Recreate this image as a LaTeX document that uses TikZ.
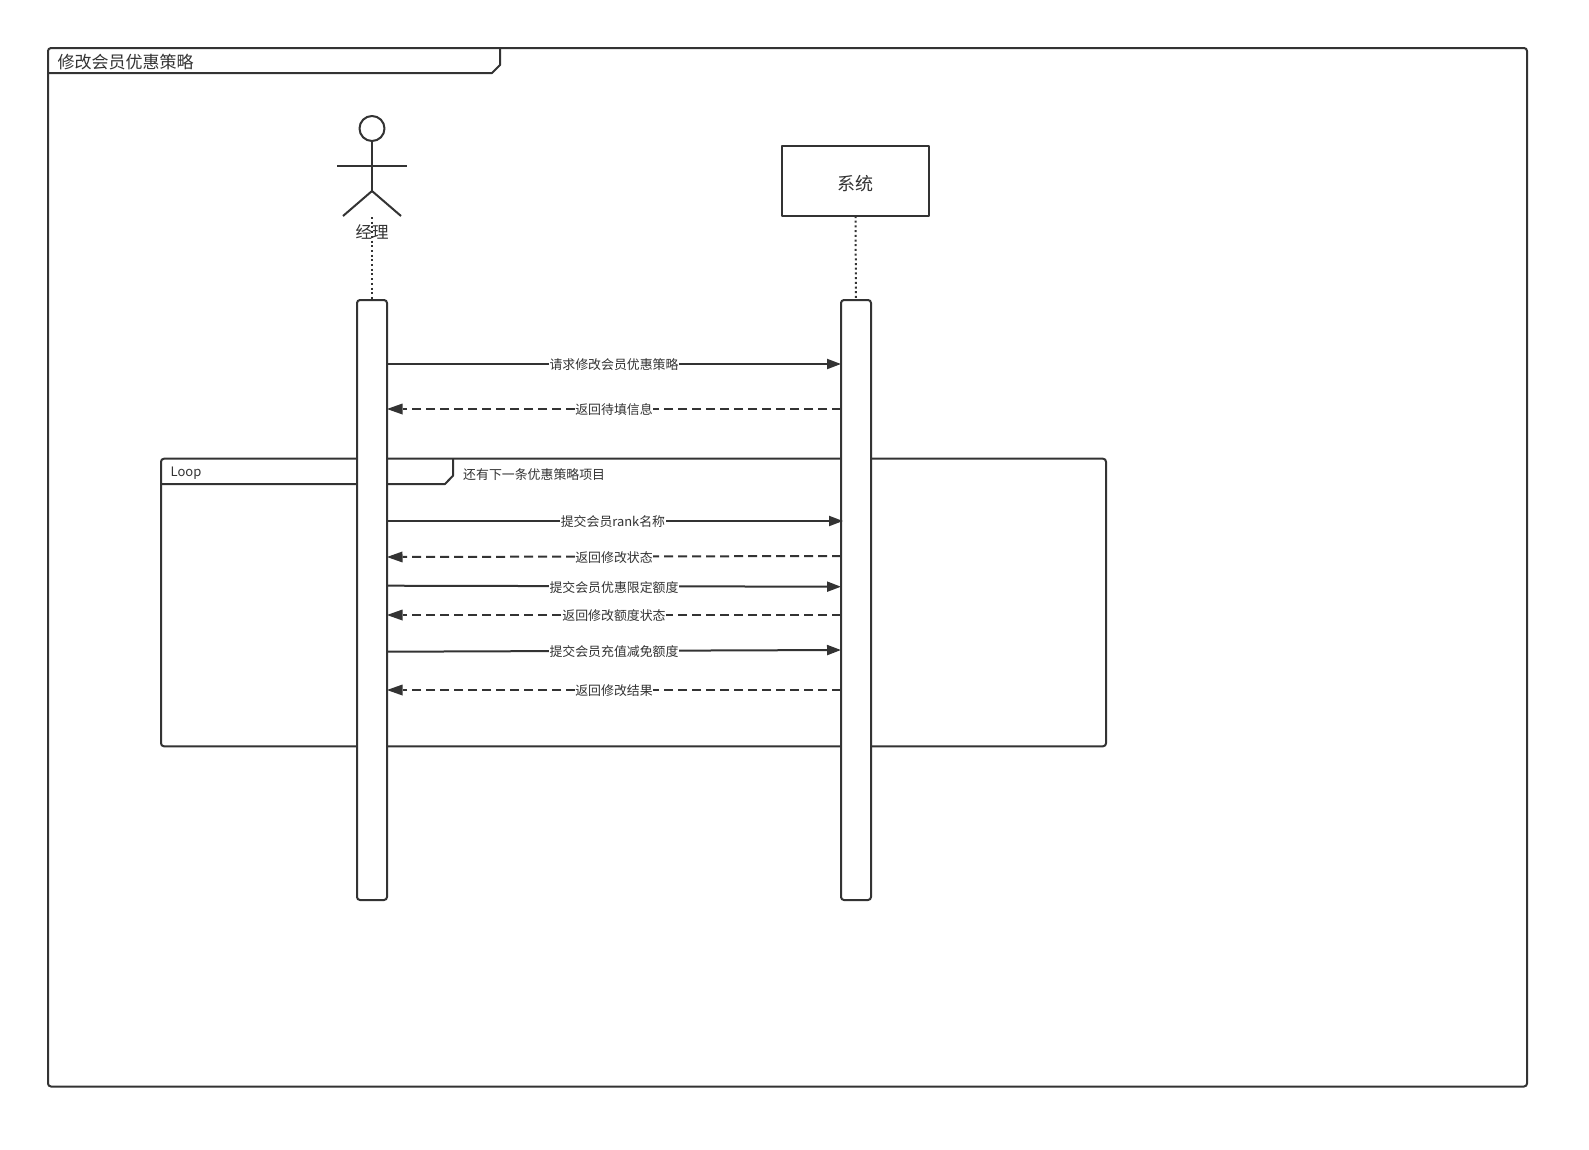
\documentclass[tikz,border=0pt]{standalone}
\usepackage{fontspec}
\setmainfont{Noto Sans CJK SC}
\usetikzlibrary{arrows.meta}
\definecolor{ink}{HTML}{333333}
\newcommand{\fsz}[1]{\fontsize{#1}{#1}\selectfont}
\tikzset{
  base/.style={draw=ink,line width=2pt,line join=round},
  framebox/.style={base,fill=white,rounded corners=3pt,anchor=north west,inner sep=0pt,outer sep=0pt},
  bar/.style={base,fill=white,rounded corners=3pt,minimum width=30pt,minimum height=600pt,anchor=north,inner sep=0pt,outer sep=0pt},
  sysbox/.style={base,fill=white,minimum width=147pt,minimum height=70pt,inner sep=0pt,outer sep=0pt,anchor=north west},
  head/.style={base,circle,minimum size=25pt,inner sep=0pt,outer sep=0pt},
  limb/.style={base},
  life/.style={draw=ink,line width=2pt,dash pattern=on 2pt off 2.7pt},
  sync/.style={draw=ink,line width=2pt,-{Triangle[length=14pt,width=10pt,fill=ink]}},
  reply/.style={draw=ink,line width=2pt,dash pattern=on 9pt off 5pt,-{Triangle[length=15.5pt,width=11pt,fill=ink,line width=0pt,sep=0pt]}},
  msgtext/.style={fill=white,text=ink,font=\fsz{12.9},inner xsep=0.5pt,inner ysep=1pt,text depth=0pt,yshift=-0.4pt},
  plain/.style={text=ink,inner sep=0pt},
}
\begin{document}
\begin{tikzpicture}[x=1pt,y=-1pt]
\useasboundingbox (0,0) rectangle (1589,1149);
% outer frame
\node[framebox,minimum width=1479pt,minimum height=1038.5pt] (frame) at (48,48) {};
\coordinate (tabL) at (frame.west |- 0,73);
\coordinate (tabT) at (500,48);
\draw[base] (tabL) -- (492,73) -- (500,65) -- (tabT);
\node[plain,anchor=west,font=\fsz{17}] (title) at (57.5,62.3) {修改会员优惠策略};
% loop frame
\node[framebox,minimum width=945pt,minimum height=287.6pt] (loopf) at (161,458.7) {};
\coordinate (ltabL) at (loopf.west |- 0,484);
\coordinate (ltabT) at (453,458.7);
\draw[base] (ltabL) -- (445,484) -- (453,475.7) -- (ltabT);
\node[plain,anchor=west,font=\fsz{13}] (looplabel) at (170.5,473.2) {Loop};
\node[plain,anchor=west,font=\fsz{12.9}] (guard) at (463,475) {还有下一条优惠策略项目};
% actor
\node[head] (hd) at (372,128.5) {};
\coordinate (hip) at (372,191);
\coordinate (armL) at (337,166);
\coordinate (armR) at (407,166);
\coordinate (legL) at (343,216);
\coordinate (legR) at (401,216);
\draw[limb] (hd.south) -- (hip);
\draw[limb] (armL) -- (armR);
\draw[limb] (legL) -- (hip) -- (legR);
\node[plain,font=\fsz{16.5}] (actorname) at (372,232) {经理};
% system
\node[sysbox] (sys) at (782,146) {};
\node[plain,font=\fsz{18}] (sysname) at (855.5,183.2) {系统};
% activations
\node[bar] (barA) at (372,300) {};
\node[bar] (barB) at (856,300) {};
% lifelines
\coordinate (lifeTop) at (372,217);
\draw[life] (lifeTop) -- (barA.north);
\draw[life] (sys.south) -- (barB.north);
% message ends
\coordinate (a1) at (barA.east |- 0,364);
\coordinate (b1) at (barB.west |- 0,364);
\coordinate (a2) at (barA.east |- 0,409);
\coordinate (b2) at (barB.west |- 0,409);
\coordinate (a3) at (barA.east |- 0,521);
\coordinate (b3) at (843,521);
\coordinate (a4) at (barA.east |- 0,557);
\coordinate (b4) at (barB.west |- 0,556);
\coordinate (a5) at (barA.east |- 0,585.7);
\coordinate (b5) at (barB.west |- 0,586.7);
\coordinate (a6) at (barA.east |- 0,615);
\coordinate (b6) at (barB.west |- 0,615);
\coordinate (a7) at (barA.east |- 0,651.7);
\coordinate (b7) at (barB.west |- 0,650);
\coordinate (a8) at (barA.east |- 0,690);
\coordinate (b8) at (barB.west |- 0,690);
% messages
\draw[sync] (a1) -- node[msgtext] (m1) {请求修改会员优惠策略} (b1);
\draw[reply] (b2) -- node[msgtext] (m2) {返回待填信息} (a2);
\draw[sync] (a3) -- node[msgtext,pos=.4955] (m3) {提交会员rank名称} (b3);
\draw[reply] (b4) -- node[msgtext] (m4) {返回修改状态} (a4);
\draw[sync] (a5) -- node[msgtext] (m5) {提交会员优惠限定额度} (b5);
\draw[reply] (b6) -- node[msgtext] (m6) {返回修改额度状态} (a6);
\draw[sync] (a7) -- node[msgtext] (m7) {提交会员充值减免额度} (b7);
\draw[reply] (b8) -- node[msgtext] (m8) {返回修改结果} (a8);
\end{tikzpicture}
\end{document}
